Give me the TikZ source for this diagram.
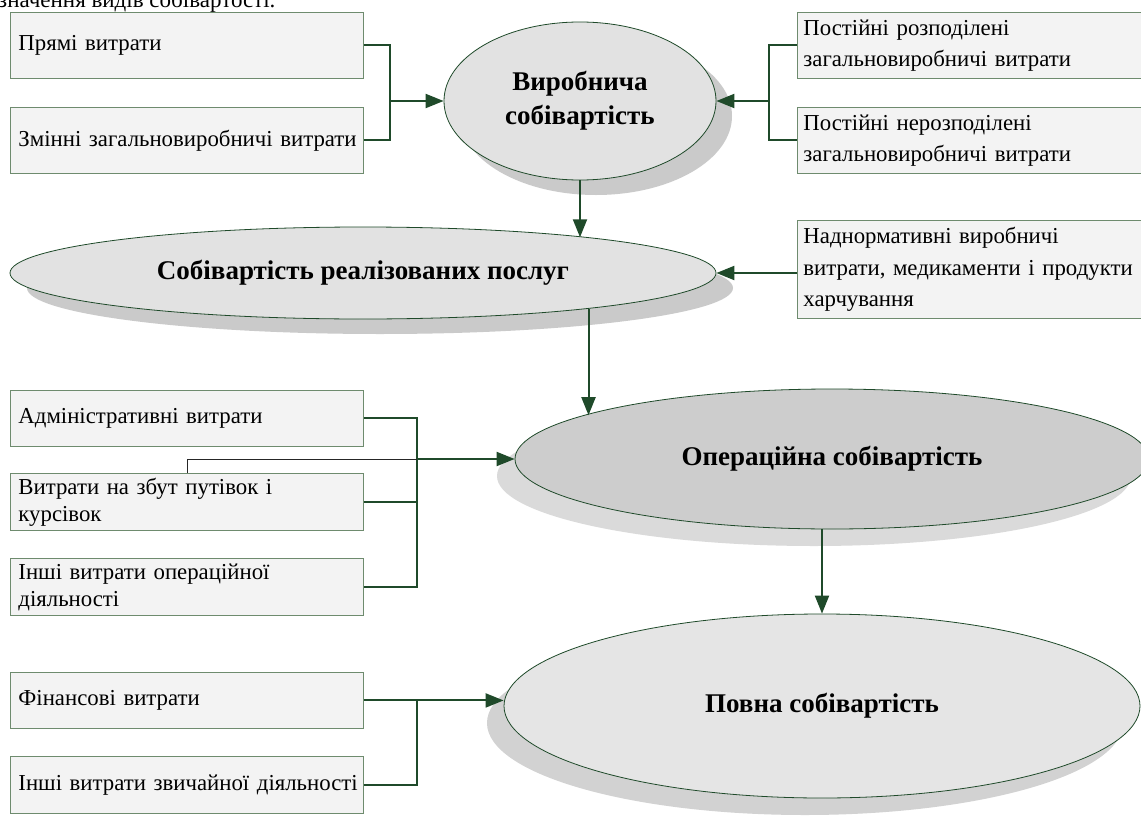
\documentclass[tikz,border=0pt]{standalone}
\usepackage{fontspec}
\setmainfont{Liberation Serif}
\usetikzlibrary{arrows.meta,shapes.geometric,shadows}
\definecolor{boxfill}{HTML}{F3F3F3}
\definecolor{boxdraw}{HTML}{6E8B6E}
\definecolor{lin}{HTML}{1F4A2A}
\definecolor{ellA}{HTML}{E2E2E2}
\definecolor{ellC}{HTML}{CDCDCD}
\definecolor{shadA}{HTML}{CACACA}
\definecolor{shadC}{HTML}{DADADA}
\tikzset{
  box/.style={draw=boxdraw, fill=boxfill, line width=0.9pt, anchor=north west,
    align=left, inner xsep=8pt, inner ysep=0pt, text width=337pt,
    font=\fontsize{22.8}{27}\selectfont},
  rbox/.style={box, inner xsep=6pt, text width=350pt, font=\fontsize{22.8}{31.5}\selectfont},
  ell/.style={ellipse, draw=lin, line width=0.8pt, inner sep=0pt, align=center,
    font=\bfseries\fontsize{27}{34}\selectfont},
  conn/.style={draw=lin, line width=2pt},
  arr/.style={conn, -{Triangle[length=18pt,width=14pt]}},
  thinl/.style={draw=black!85, line width=0.8pt}
}
\begin{document}
\begin{tikzpicture}[x=1pt,y=-1pt]
\useasboundingbox (0,0) rectangle (1141,827);
\fill[white] (0,0) rectangle (1141,827);

\node[anchor=base west, font=\fontsize{23}{25}\selectfont, inner sep=0pt] (hdr) at (-2,7) {значення видів собівартості.};

% ellipses
\node[ell, fill=ellA, minimum width=272pt, minimum height=158pt,
  drop shadow={shadow xshift=16pt, shadow yshift=-15pt, fill=shadA, opacity=1}]
  (e1) at (580,101) {Виробнича\\собівартість};
\node[ell, fill=ellA, minimum width=706pt, minimum height=92pt,
  drop shadow={shadow xshift=17pt, shadow yshift=-15pt, fill=shadA, opacity=1}]
  (e2) at (363,273) {Собівартість реалізованих послуг};
\node[ell, fill=ellC, minimum width=634pt, minimum height=140pt,
  drop shadow={shadow xshift=-18pt, shadow yshift=-17pt, fill=shadC, opacity=1}]
  (e3) at (832,459) {Операційна собівартість};
\node[ell, fill=ellA!90!white, minimum width=636pt, minimum height=184pt,
  drop shadow={shadow xshift=-17pt, shadow yshift=-17pt, fill=shadA!85!white, opacity=1}]
  (e4) at (822,706) {Повна собівартість};

% left top boxes
\node[box, minimum height=66pt] (pr) at (10,12) {Прямі витрати};
\node[box, minimum height=66pt] (zm) at (10,107) {\mbox{Змінні загальновиробничі витрати}};
% right top boxes
\node[rbox, minimum height=66pt] (pp) at (797,12) {Постійні розподілені\\\mbox{загальновиробничі витрати}};
\node[rbox, minimum height=66pt] (pn) at (797,107) {Постійні нерозподілені\\\mbox{загальновиробничі витрати}};
\node[rbox, minimum height=98pt] (nd) at (797,220) {Наднормативні виробничі\\\mbox{витрати, медикаменти і продукти}\\харчування};
% left middle boxes
\node[box, minimum height=56pt] (ad) at (10,390) {Адміністративні витрати};
\node[box, minimum height=57pt] (vz) at (10,473) {Витрати на збут путівок і\\курсівок};
\node[box, minimum height=57pt] (io) at (10,558) {Інші витрати операційної\\діяльності};
% left bottom boxes
\node[box, minimum height=56pt] (fv) at (10,672) {Фінансові витрати};
\node[box, minimum height=57pt] (iz) at (10,756) {\mbox{Інші витрати звичайної діяльності}};

% junctions
\coordinate (j1) at (390,101);
\coordinate (j2) at (769,101);
\coordinate (j3) at (417,459);
\coordinate (j4) at (417,699);
\coordinate (t1) at (187,473);

% connectors top
\draw[conn] (pr.east) -| (j1) |- (zm.east);
\draw[arr] (j1) -- (e1.west);
\draw[conn] (pp.west) -| (j2) |- (pn.west);
\draw[arr] (j2) -- (e1.east);
\draw[arr] (e1.south) -- (e1.south |- e2.9.3);
\draw[arr] (nd.west |- e2.east) -- (e2.east);
\draw[arr] (e2.-9.4) -- (e2.-9.4 |- e3.170.5);
% connectors middle
\draw[conn] (ad.east) -| (j3) |- (io.east);
\draw[conn] (vz.east) -- (vz.east -| j3);
\draw[thinl] (t1) |- (j3);
\draw[arr] (j3) -- (e3.west);
\draw[arr] (e4.north |- e3.south) -- (e4.north);
% connectors bottom
\draw[arr] (fv.east) -- (fv.east -| e4.west);
\draw[conn] (iz.east) -| (j4);
\end{tikzpicture}
\end{document}
